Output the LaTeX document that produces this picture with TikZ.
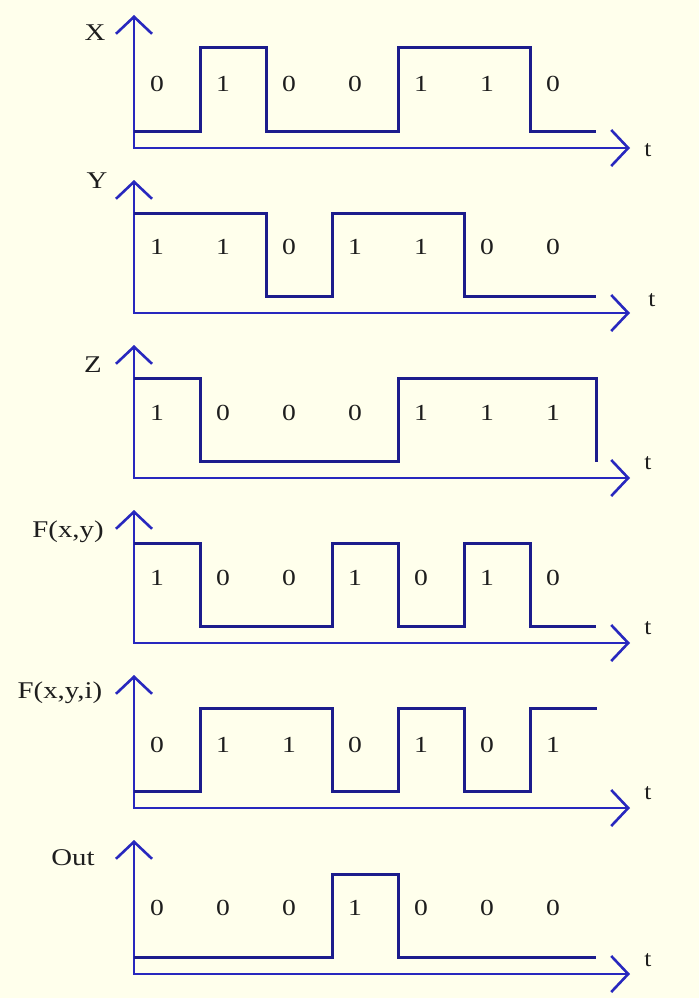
\documentclass[tikz,border=0pt]{standalone}
\usepackage{fontspec}
\setmainfont{Liberation Serif}
\usetikzlibrary{arrows.meta}
\definecolor{bg}{RGB}{255,255,236}
\definecolor{axisblue}{RGB}{40,40,190}
\definecolor{sigblue}{RGB}{28,28,140}
\definecolor{txt}{RGB}{30,30,30}
\begin{document}
\begin{tikzpicture}[x=1pt,y=-1pt,
  axis/.style={draw=axisblue,line width=2.6pt,line cap=rect,
    -{Straight Barb[length=17pt,width=36pt,line width=2.6pt]}},
  signal/.style={draw=sigblue,line width=3pt,line join=miter},
  digit/.style={text=txt,font=\fontsize{23}{27}\selectfont,xscale=1.2,inner sep=0pt},
  lbl/.style={text=txt,font=\fontsize{24}{28}\selectfont,xscale=1.2,inner sep=0pt},
  tlbl/.style={text=txt,font=\fontsize{23}{27}\selectfont,xscale=1.1,inner sep=0pt}]
\fill[bg] (0,0) rectangle (699,998);
\useasboundingbox (0,0) rectangle (699,998);

% ---------- X ----------
\begin{scope}[shift={(0,148)}]
  \coordinate (o1) at (134,0);
  \coordinate (xt1) at (630,0);
  \coordinate (yt1) at (134,-133);
  \draw[axis] (o1) -- (xt1);
  \draw[axis] (o1) -- (yt1);
  \node[lbl] (lab1) at (95,-115) {X};
  \node[tlbl] (t1) at (648,2) {t};
  \foreach \d [count=\i] in {0,1,0,0,1,1,0}
    \node[digit] (d1-\i) at (157+66*\i-66,-64) {\d};
  \draw[signal] (134,-17) -- (200,-17) -- (200,-100) -- (266,-100) -- (266,-17)
    -- (398,-17) -- (398,-100) -- (530,-100) -- (530,-17) -- (596,-17);
\end{scope}

% ---------- Y ----------
\begin{scope}[shift={(0,313)}]
  \coordinate (o2) at (134,0);
  \coordinate (xt2) at (630,0);
  \coordinate (yt2) at (134,-133);
  \draw[axis] (o2) -- (xt2);
  \draw[axis] (o2) -- (yt2);
  \node[lbl] (lab2) at (97,-132) {Y};
  \node[tlbl] (t2) at (652,-13) {t};
  \foreach \d [count=\i] in {1,1,0,1,1,0,0}
    \node[digit] (d2-\i) at (157+66*\i-66,-66) {\d};
  \draw[signal] (134,-100) -- (266,-100) -- (266,-17) -- (332,-17) -- (332,-100)
    -- (464,-100) -- (464,-17) -- (596,-17);
\end{scope}

% ---------- Z ----------
\begin{scope}[shift={(0,478)}]
  \coordinate (o3) at (134,0);
  \coordinate (xt3) at (630,0);
  \coordinate (yt3) at (134,-133);
  \draw[axis] (o3) -- (xt3);
  \draw[axis] (o3) -- (yt3);
  \node[lbl] (lab3) at (93,-113) {Z};
  \node[tlbl] (t3) at (648,-15) {t};
  \foreach \d [count=\i] in {1,0,0,0,1,1,1}
    \node[digit] (d3-\i) at (157+66*\i-66,-65) {\d};
  \draw[signal] (134,-100) -- (200,-100) -- (200,-17) -- (398,-17) -- (398,-100)
    -- (596,-100) -- (596,-16);
\end{scope}

% ---------- F(x,y) ----------
\begin{scope}[shift={(0,643)}]
  \coordinate (o4) at (134,0);
  \coordinate (xt4) at (630,0);
  \coordinate (yt4) at (134,-133);
  \draw[axis] (o4) -- (xt4);
  \draw[axis] (o4) -- (yt4);
  \node[lbl] (lab4) at (68,-111) {F(x,y)};
  \node[tlbl] (t4) at (648,-15) {t};
  \foreach \d [count=\i] in {1,0,0,1,0,1,0}
    \node[digit] (d4-\i) at (157+66*\i-66,-65) {\d};
  \draw[signal] (134,-100) -- (200,-100) -- (200,-17) -- (332,-17) -- (332,-100)
    -- (398,-100) -- (398,-17) -- (464,-17) -- (464,-100) -- (530,-100)
    -- (530,-17) -- (596,-17);
\end{scope}

% ---------- F(x,y,i) ----------
\begin{scope}[shift={(0,808)}]
  \coordinate (o5) at (134,0);
  \coordinate (xt5) at (630,0);
  \coordinate (yt5) at (134,-133);
  \draw[axis] (o5) -- (xt5);
  \draw[axis] (o5) -- (yt5);
  \node[lbl] (lab5) at (60,-115) {F(x,y,i)};
  \node[tlbl] (t5) at (648,-15) {t};
  \foreach \d [count=\i] in {0,1,1,0,1,0,1}
    \node[digit] (d5-\i) at (157+66*\i-66,-63) {\d};
  \draw[signal] (134,-17) -- (200,-17) -- (200,-100) -- (332,-100) -- (332,-17)
    -- (398,-17) -- (398,-100) -- (464,-100) -- (464,-17) -- (530,-17)
    -- (530,-100) -- (597,-100);
\end{scope}

% ---------- Out ----------
\begin{scope}[shift={(0,974)}]
  \coordinate (o6) at (134,0);
  \coordinate (xt6) at (630,0);
  \coordinate (yt6) at (134,-134);
  \draw[axis] (o6) -- (xt6);
  \draw[axis] (o6) -- (yt6);
  \node[lbl] (lab6) at (73,-116) {Out};
  \node[tlbl] (t6) at (648,-14) {t};
  \foreach \d [count=\i] in {0,0,0,1,0,0,0}
    \node[digit] (d6-\i) at (157+66*\i-66,-66) {\d};
  \draw[signal] (134,-17) -- (332,-17) -- (332,-100) -- (398,-100) -- (398,-17)
    -- (596,-17);
\end{scope}
\end{tikzpicture}
\end{document}
